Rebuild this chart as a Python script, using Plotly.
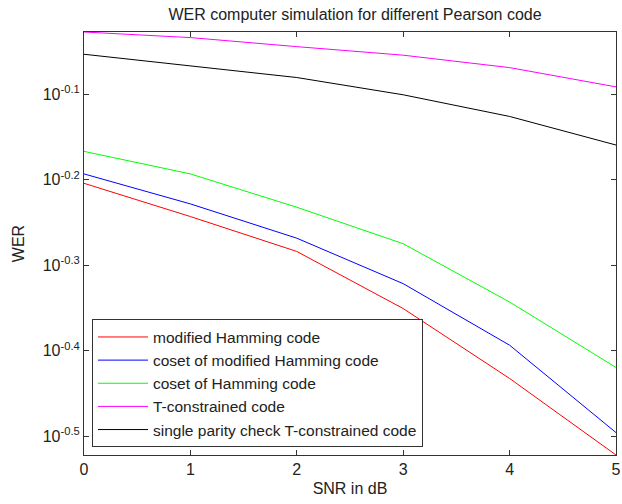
import numpy as np
import plotly.graph_objects as go

snr = [0, 1, 2, 3, 4, 5]
modified_hamming = [0.6248, 0.5713, 0.5201, 0.4460, 0.3695, 0.3007]
coset_modified_hamming = [0.6408, 0.5911, 0.5390, 0.4769, 0.4041, 0.3194]
coset_hamming = [0.6809, 0.6408, 0.5858, 0.5310, 0.4539, 0.3806]
t_constrained = [0.9389, 0.9249, 0.9026, 0.8821, 0.8531, 0.8100]
spc_t_constrained = [0.8843, 0.8570, 0.8306, 0.7929, 0.7480, 0.6926]

series_names = ["modified Hamming code", "coset of modified Hamming code",
                "coset of Hamming code", "T-constrained code",
                "single parity check T-constrained code"]
series_values = [modified_hamming, coset_modified_hamming, coset_hamming,
                 t_constrained, spc_t_constrained]
colors = ["#ff0000", "#0000ff", "#00ff00", "#ff00ff", "#000000"]

ytick_exps = [-0.5, -0.4, -0.3, -0.2, -0.1]
ytick_text = ["10<sup>%s</sup>" % e for e in ytick_exps]

fig = go.Figure()
for name, vals, c in zip(series_names, series_values, colors):
    fig.add_trace(go.Scatter(x=snr, y=vals, mode="lines", name=name,
                             line=dict(color=c, width=1)))

allv = np.concatenate([np.array(v) for v in series_values])
yr = [np.log10(allv.min()), np.log10(allv.max())]

font = "Liberation Sans, Arial, sans-serif"
tc = "#222222"
axis_common = dict(showline=True, linecolor="#333333", linewidth=1, mirror="ticks",
                   ticks="inside", ticklen=5, tickcolor="#333333", showgrid=False,
                   zeroline=False, ticklabeloverflow="allow",
                   tickfont=dict(family=font, size=16, color=tc))

fig.update_layout(
    width=622, height=504,
    margin=dict(l=84, r=1, t=32, b=49),
    paper_bgcolor="white", plot_bgcolor="white",
    title=dict(text="WER computer simulation for different Pearson code",
               x=355 / 622, xanchor="center", y=1 - 14 / 504, yanchor="middle",
               font=dict(family=font, size=16, color=tc)),
    xaxis=dict(range=[0, 5], tickvals=snr, title=dict(text="SNR in dB", standoff=5,
               font=dict(family=font, size=16, color=tc)), **axis_common),
    yaxis=dict(type="log", range=yr, tickvals=[10 ** e for e in ytick_exps],
               ticktext=ytick_text,
               title=dict(text="WER", standoff=14, font=dict(family=font, size=16, color=tc)),
               **axis_common),
    legend=dict(x=0.015, y=0.018, xanchor="left", yanchor="bottom",
                bgcolor="white", bordercolor="#333333", borderwidth=1,
                font=dict(family=font, size=15.5, color=tc),
                itemwidth=50, tracegroupgap=0),
    showlegend=True,
)

fig.write_html("out.html")
